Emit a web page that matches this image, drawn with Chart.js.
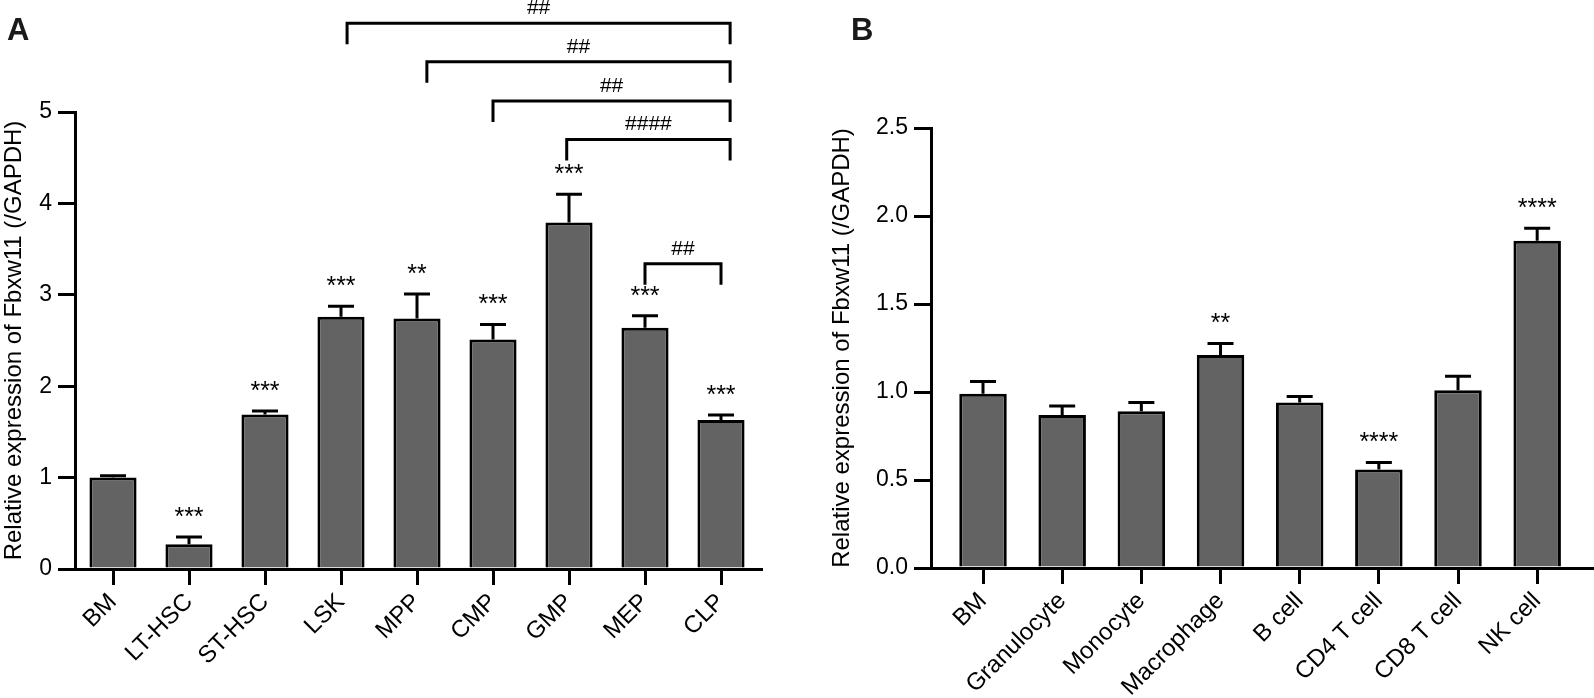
<!DOCTYPE html>
<html>
<head>
<meta charset="utf-8">
<script src="https://cdn.jsdelivr.net/npm/chart.js@4.4.1/dist/chart.umd.min.js"></script>
<style>
  body { margin: 0; background: #fff; }
  #page { position: relative; width: 1594px; height: 698px; overflow: hidden; background: #fff; }
  canvas { position: absolute; top: 0; }
  #chartA { left: 0; }
  #chartB { left: 800px; }
  .letter { position: absolute; top: 12px; font: bold 31px "Liberation Sans", Arial, sans-serif; color: #1a1a1a; }
</style>
</head>
<body>
<div id="page">
  <canvas id="chartA" width="800" height="698"></canvas>
  <canvas id="chartB" width="794" height="698"></canvas>
  <div class="letter" style="left:7px">A</div>
  <div class="letter" style="left:851px">B</div>
</div>
<script>
// panel A - progenitors
const progenitorLabels = ["BM", "LT-HSC", "ST-HSC", "LSK", "MPP", "CMP", "GMP", "MEP", "CLP"];
const progenitorMeans = [1.0, 0.27, 1.69, 2.76, 2.74, 2.51, 3.79, 2.64, 1.63];
const progenitorErrors = [0.02, 0.08, 0.04, 0.115, 0.27, 0.165, 0.31, 0.13, 0.055];
const progenitorStars = ["", "***", "***", "***", "**", "***", "***", "***", "***"];
const progenitorTicks = [0, 1, 2, 3, 4, 5];

// ## brackets vs CLP (category positions and heights in axis units)
const bracketFrom = [3.08, 4.13, 5.0, 5.97, 7.0];
const bracketTo = [8.12, 8.12, 8.12, 8.12, 8.0];
const bracketLevel = [5.97, 5.55, 5.12, 4.70, 3.34];
const bracketLabels = ["##", "##", "##", "####", "##"];

// panel B - mature cells
const matureLabels = ["BM", "Granulocyte", "Monocyte", "Macrophage", "B cell", "CD4 T cell", "CD8 T cell", "NK cell"];
const matureMeans = [0.99, 0.87, 0.89, 1.21, 0.94, 0.56, 1.01, 1.86];
const matureErrors = [0.07, 0.05, 0.05, 0.065, 0.035, 0.04, 0.08, 0.07];
const matureStars = ["", "", "", "**", "", "****", "", "****"];
const matureTicks = [0, 0.5, 1.0, 1.5, 2.0, 2.5];

const FONT = "'Liberation Sans', Arial, sans-serif";
Chart.defaults.font.family = FONT;
Chart.defaults.color = "#000";

// x axis line, error bars, stars, brackets
function makeAnnotations(cfg) {
  return {
    id: "annotations",
    afterDatasetsDraw(chart) {
      const ctx = chart.ctx;
      const xs = chart.scales.x;
      const ys = chart.scales.y;
      const bars = chart.getDatasetMeta(0).data;
      ctx.save();
      ctx.strokeStyle = "#000";
      ctx.fillStyle = "#000";
      ctx.lineWidth = 3;
      ctx.lineCap = "butt";
      ctx.lineJoin = "miter";

      // x axis, running a little past the last bar
      const base = Math.round(ys.getPixelForValue(0) - 1.5) + 1.5;
      ctx.beginPath();
      ctx.moveTo(chart.chartArea.left - 3, base);
      ctx.lineTo(xs.right + cfg.overhang, base);
      ctx.stroke();

      ctx.textAlign = "center";
      ctx.textBaseline = "middle";
      ctx.font = "25px " + FONT;
      bars.forEach((bar, i) => {
        const top = ys.getPixelForValue(cfg.means[i] + cfg.errors[i]);
        const start = ys.getPixelForValue(cfg.means[i]);
        ctx.beginPath();
        ctx.moveTo(bar.x, start);
        ctx.lineTo(bar.x, top);
        ctx.moveTo(bar.x - 13, top);
        ctx.lineTo(bar.x + 13, top);
        ctx.stroke();
        if (cfg.stars[i]) ctx.fillText(cfg.stars[i], bar.x, top - 19);
      });

      if (cfg.brackets) {
        const b = cfg.brackets;
        ctx.font = "21px " + FONT;
        b.from.forEach((f, k) => {
          const x1 = xs.getPixelForValue(f);
          const x2 = xs.getPixelForValue(b.to[k]);
          const yl = ys.getPixelForValue(b.level[k]);
          ctx.beginPath();
          ctx.moveTo(x1, yl + 21);
          ctx.lineTo(x1, yl);
          ctx.lineTo(x2, yl);
          ctx.lineTo(x2, yl + 21);
          ctx.stroke();
          ctx.fillText(b.labels[k], (x1 + x2) / 2, yl - 15);
        });
      }
      ctx.restore();
    },
  };
}

function makeChart(id, cfg) {
  return new Chart(document.getElementById(id), {
    type: "bar",
    data: {
      labels: cfg.labels,
      datasets: [
        {
          data: cfg.means,
          backgroundColor: "#636363",
          borderColor: "#000",
          borderWidth: 3,
          barPercentage: cfg.barPct,
          categoryPercentage: 1,
        },
      ],
    },
    options: {
      responsive: false,
      animation: false,
      layout: { padding: cfg.padding },
      plugins: { legend: { display: false }, tooltip: { enabled: false } },
      scales: {
        x: {
          type: "category",
          offset: true,
          grid: {
            offset: false,
            drawOnChartArea: false,
            tickLength: 16,
            lineWidth: 3,
            color: "#000",
          },
          border: { display: false },
          ticks: {
            minRotation: 45,
            maxRotation: 45,
            padding: 3,
            font: { size: 24 },
            color: "#000",
          },
          afterBuildTicks: (s) => {
            // panel B leaves a small gap between the y axis and the first bar
            if (cfg.xStart !== undefined) {
              s._startValue = cfg.xStart;
              s._valueRange = cfg.xRange;
            }
          },
          afterFit: (s) => { s.height = cfg.xHeight; },
        },
        y: {
          min: 0,
          max: cfg.yMax,
          grid: {
            drawOnChartArea: false,
            tickLength: 17,
            lineWidth: 3,
            color: "#000",
          },
          border: { color: "#000", width: 3 },
          ticks: {
            padding: 6,
            font: { size: 23, family: "'Liberation Sans Narrow', " + FONT },
            color: "#000",
            callback: cfg.tickFmt,
          },
          afterBuildTicks: (s) => { s.ticks = cfg.ticks.map((v) => ({ value: v })); },
          afterFit: (s) => { s.width = cfg.yWidth; },
          title: {
            display: true,
            text: "Relative expression of Fbxw11 (/GAPDH)",
            font: { size: 24 },
            color: "#000",
            padding: { top: cfg.titlePad, bottom: 0 },
          },
        },
      },
    },
    plugins: [makeAnnotations(cfg)],
  });
}

makeChart("chartA", {
  labels: progenitorLabels,
  means: progenitorMeans,
  errors: progenitorErrors,
  stars: progenitorStars,
  ticks: progenitorTicks,
  yMax: 5,
  tickFmt: (v) => String(v),
  barPct: 0.62,
  padding: { left: 0, right: 41, top: 112, bottom: 0 },
  xHeight: 129,
  yWidth: 75,
  titlePad: 0,
  overhang: 4,
  brackets: { from: bracketFrom, to: bracketTo, level: bracketLevel, labels: bracketLabels },
});

makeChart("chartB", {
  labels: matureLabels,
  means: matureMeans,
  errors: matureErrors,
  stars: matureStars,
  ticks: matureTicks,
  yMax: 2.5,
  tickFmt: (v) => Number(v).toFixed(1),
  barPct: 0.6,
  padding: { left: 0, right: 17, top: 128, bottom: 0 },
  xHeight: 130,
  yWidth: 131,
  titlePad: 28,
  overhang: 20,
  xStart: -0.657,
  xRange: 8.16,
});
</script>
</body>
</html>
